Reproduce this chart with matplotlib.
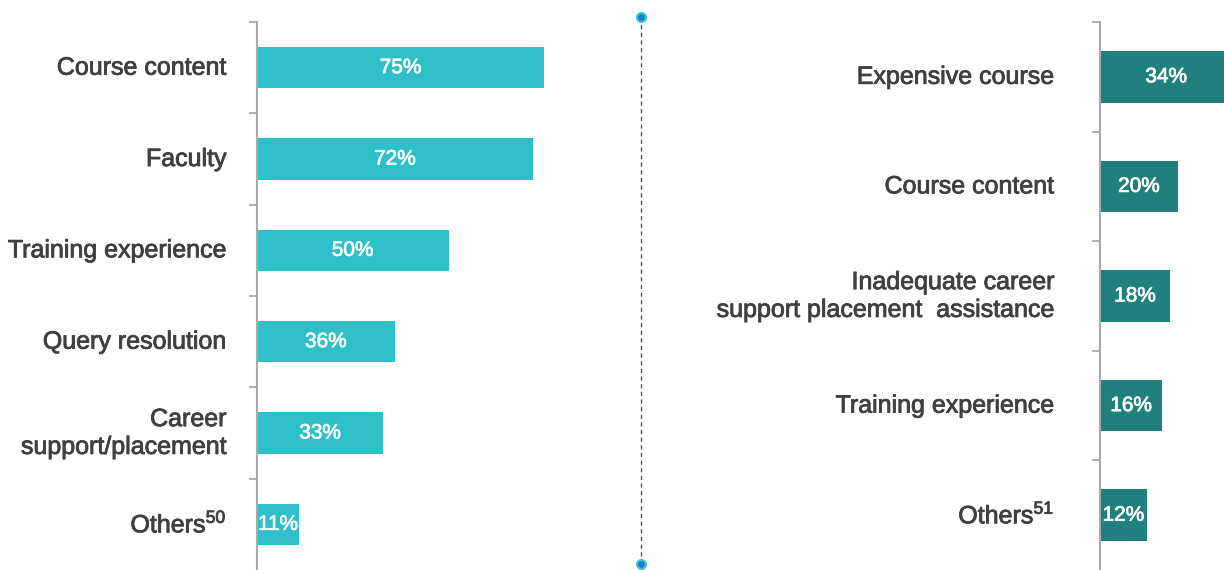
import matplotlib
matplotlib.use("Agg")
import matplotlib.pyplot as plt
from matplotlib.lines import Line2D
import matplotlib.patheffects as pe

plt.rcParams['font.family'] = ['Liberation Sans', 'DejaVu Sans']
plt.rcParams['mathtext.fontset'] = 'custom'
plt.rcParams['mathtext.rm'] = 'Liberation Sans'

# ---- data ----
left_categories = ["Course content", "Faculty", "Training experience",
                   "Query resolution", "Career\nsupport/placement", r"Others$^{\mathregular{50}}$"]
left_values = [75, 72, 50, 36, 33, 11]

right_categories = ["Expensive course", "Course content",
                    "Inadequate career\nsupport placement  assistance",
                    "Training experience", r"Others$^{\mathregular{51}}$"]
right_values = [34, 20, 18, 16, 12]

W, H = 1224, 570
fig = plt.figure(figsize=(W / 100, H / 100), dpi=100)

text_color = "#404040"
spine_color = "#a9a9ab"
left_color = "#2fbfc7"
right_color = "#217f80"


def px_axes(x0, x1, y_top, y_bot):
    return fig.add_axes([x0 / W, 1 - y_bot / H, (x1 - x0) / W, (y_bot - y_top) / H])


def style_panel(ax, cats, vals, color, pad, height):
    n = len(cats)
    y = list(range(n))
    ax.barh(y, vals, height=height, color=color, zorder=2)
    for yi, v in zip(y, vals):
        ax.text(v / 2, yi, f"{v}%", ha="center", va="center", color="white",
                fontsize=15, zorder=3,
                path_effects=[pe.withStroke(linewidth=0.5, foreground="white")])
    ax.set_ylim(n - 0.5, -0.5)
    ax.set_yticks([i - 0.5 for i in range(n)])
    ax.set_yticklabels([])
    ax.set_yticks(y, minor=True)
    labels = ax.set_yticklabels(cats, minor=True, fontsize=18, color=text_color,
                                linespacing=1.2, va="center")
    for t in labels:
        t.set_path_effects([pe.withStroke(linewidth=0.6, foreground=text_color)])
    ax.tick_params(axis="y", which="major", length=6, width=1.3, color=spine_color)
    ax.tick_params(axis="y", which="minor", length=0, pad=pad)
    ax.set_xticks([])
    for s in ["top", "right", "bottom"]:
        ax.spines[s].set_visible(False)
    ax.spines["left"].set_color(spine_color)
    ax.spines["left"].set_linewidth(1.5)
    ax.patch.set_alpha(0)


# left panel
axL = px_axes(257, 630, 22, 570)
axL.set_xlim(0, (630 - 257) / 3.83)
style_panel(axL, left_categories, left_values, left_color, 22, 0.45)

# right panel
axR = px_axes(1100, 1224, 22, 570)
axR.set_xlim(0, (1224 - 1100) / 3.9)
style_panel(axR, right_categories, right_values, right_color, 33, 0.47)

# divider
x = 641 / W
fig.add_artist(Line2D([x, x], [1 - 17 / H, 1 - 564 / H], transform=fig.transFigure,
                      color="#555555", lw=1, linestyle=(0, (3, 2.5))))
for yy in [17, 564]:
    fig.add_artist(Line2D([x], [1 - yy / H], transform=fig.transFigure, marker="o",
                          markersize=6.5, markerfacecolor="#1f7fc6",
                          markeredgecolor="#40c4dc", markeredgewidth=1.5))

fig.savefig("out.png", dpi=100)
